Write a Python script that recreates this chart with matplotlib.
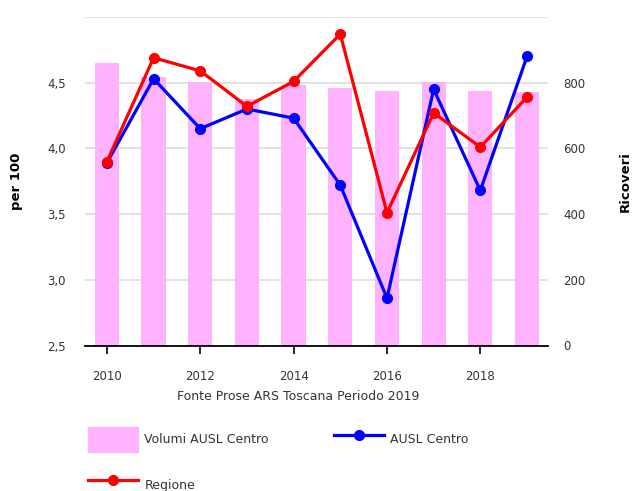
import matplotlib
matplotlib.use("Agg")
import matplotlib.pyplot as plt
from matplotlib.ticker import FuncFormatter, FixedLocator
from matplotlib.patches import Patch
from matplotlib.lines import Line2D

years = [2010, 2011, 2012, 2013, 2014, 2015, 2016, 2017, 2018, 2019]
volumi_ausl = [860, 817, 802, 750, 793, 784, 774, 802, 774, 771]
ausl_centro = [3.89, 4.53, 4.15, 4.30, 4.23, 3.72, 2.86, 4.45, 3.68, 4.70]
regione = [3.90, 4.69, 4.59, 4.32, 4.51, 4.87, 3.51, 4.27, 4.01, 4.39]
left_ticks = [2.5, 3.0, 3.5, 4.0, 4.5]
right_ticks = [0, 200, 400, 600, 800]
x_ticks = [2010, 2012, 2014, 2016, 2018]

plt.rcParams['font.family'] = ['DejaVu Sans']
fig = plt.figure(figsize=(6.32, 4.91), dpi=100)
ax = fig.add_axes([85/632, 1-345.5/491, 463/632, 328.5/491])
ax2 = ax.twinx()
ax.set_zorder(ax2.get_zorder() + 1)
ax.patch.set_visible(False)

pink = '#ffb3ff'
ax2.bar(years, volumi_ausl, width=0.52, color=pink, zorder=2)
ax2.set_ylim(0, 1000)
ax2.yaxis.set_major_locator(FixedLocator([0, 200, 400, 600, 800, 1000]))
ax2.set_yticklabels([str(t) for t in right_ticks] + [''])
ax2.grid(axis='y', color='#dddddd', linewidth=1.2, zorder=0)
ax2.set_axisbelow(True)

ax.plot(years, ausl_centro, color='#0000ff', lw=2.3, marker='o', ms=7, zorder=3)
ax.plot(years, regione, color='#ff0000', lw=2.3, marker='o', ms=7, zorder=4)
ax.set_ylim(2.5, 5.0)
ax.set_xlim(2009.53, 2019.45)
ax.yaxis.set_major_locator(FixedLocator(left_ticks))
ax.yaxis.set_major_formatter(FuncFormatter(lambda v, p: f"{v:.1f}".replace('.', ',')))
ax.xaxis.set_major_locator(FixedLocator(x_ticks))

for a in (ax, ax2):
    for s in ('top', 'left', 'right', 'bottom'):
        a.spines[s].set_visible(False)
ax.spines['bottom'].set_visible(True)
ax.spines['bottom'].set_color('black')
ax.spines['bottom'].set_linewidth(1.3)

ax.tick_params(axis='y', length=0, pad=14, labelsize=8.5, labelcolor='#333333')
ax2.tick_params(axis='y', length=0, pad=11, labelsize=8.5, labelcolor='#333333')
ax.tick_params(axis='x', length=6, width=1.2, color='black', pad=12, labelsize=8.5, labelcolor='#333333')

ax.set_ylabel('per 100', fontsize=9.5, fontweight='bold')
ax.yaxis.set_label_coords(-0.134, 0.5)
ax2.set_ylabel('Ricoveri', fontsize=9.5, fontweight='bold')
ax2.yaxis.set_label_coords(1.153, 0.5)
ax.set_xlabel('Fonte Prose ARS Toscana Periodo 2019', fontsize=9, color='#333333')
ax.xaxis.set_label_coords(0.46, -0.135)

handles = [Patch(color=pink, label='Volumi AUSL Centro'),
           Line2D([], [], color='#ff0000', lw=2.3, marker='o', ms=7, label='Regione'),
           Line2D([], [], color='#0000ff', lw=2.3, marker='o', ms=7, label='AUSL Centro')]
fig.legend(handles=handles, ncol=2, loc='upper left', bbox_to_anchor=(88/632, 1-427/491),
           frameon=False, fontsize=9, handlelength=4.0, handleheight=2.73, handletextpad=0.5,
           labelspacing=1.6, columnspacing=5.2, borderpad=0, borderaxespad=0,
           labelcolor='#333333')

fig.savefig('out.png', dpi=100)
